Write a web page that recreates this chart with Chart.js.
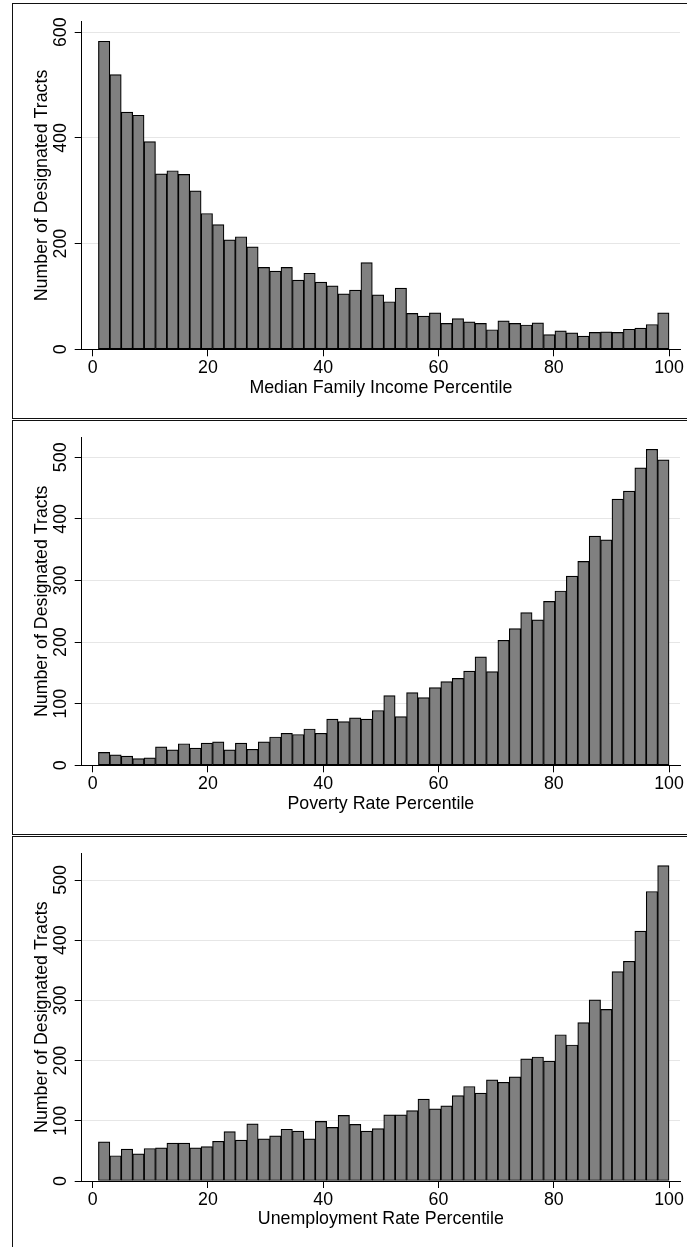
<!DOCTYPE html>
<html lang="en">
<head>
    <meta charset="UTF-8">
    <title>Designated Tracts by Percentile</title>
    <script src="https://cdn.jsdelivr.net/npm/chart.js@4.4.0/dist/chart.umd.min.js"></script>
    <style>
        html, body { margin: 0; padding: 0; background: #fff; overflow: hidden; }
        .panel { position: absolute; left: 12px; width: 700px; box-sizing: border-box; border: 1.5px solid #111; }
        canvas { position: absolute; left: 0; }
    </style>
</head>
<body>
    <div class="panel" style="top:3px;height:416px"></div>
    <div class="panel" style="top:420px;height:415px"></div>
    <div class="panel" style="top:835.5px;height:420px"></div>

    <canvas id="incomeChart" width="687" height="414" style="top:4px"></canvas>
    <canvas id="povertyChart" width="687" height="414" style="top:420px"></canvas>
    <canvas id="unemploymentChart" width="687" height="412" style="top:835px"></canvas>

    <script>
        // bin centres (percentile), 50 bins of ~1.98 from 1 to 100
        const binCenters = [
            1.99, 3.97, 5.95, 7.93, 9.91, 11.89, 13.87, 15.85, 17.83, 19.81,
            21.79, 23.77, 25.75, 27.73, 29.71, 31.69, 33.67, 35.65, 37.63, 39.61,
            41.59, 43.57, 45.55, 47.53, 49.51, 51.49, 53.47, 55.45, 57.43, 59.41,
            61.39, 63.37, 65.35, 67.33, 69.31, 71.29, 73.27, 75.25, 77.23, 79.21,
            81.19, 83.17, 85.15, 87.13, 89.11, 91.09, 93.07, 95.05, 97.03, 99.01
        ];

        const incomeCounts = [
            583, 520, 449, 443, 393, 332, 338, 331, 300, 257,
            236, 207, 213, 194, 155, 148, 155, 131, 144, 127,
            120, 105, 112, 164, 103, 90, 116, 68, 63, 69,
            49, 58, 52, 49, 37, 54, 49, 46, 50, 28,
            35, 31, 25, 32, 33, 32, 38, 40, 47, 69
        ];
        const povertyCounts = [
            21, 17, 15, 11, 12, 30, 25, 35, 28, 36,
            38, 25, 36, 26, 38, 46, 52, 50, 59, 52,
            75, 71, 77, 75, 89, 113, 79, 118, 110, 126,
            136, 141, 153, 176, 152, 203, 222, 248, 236, 266,
            283, 307, 331, 372, 366, 432, 445, 483, 513, 496
        ];
        const unemploymentCounts = [
            65, 42, 53, 45, 54, 55, 63, 63, 55, 57,
            66, 82, 68, 95, 70, 75, 86, 83, 70, 99,
            89, 109, 94, 83, 87, 110, 110, 117, 136, 120,
            125, 142, 157, 146, 168, 164, 173, 203, 206, 199,
            243, 226, 263, 301, 285, 348, 365, 415, 481, 524
        ];

        const xTicks = [0, 20, 40, 60, 80, 100];
        const incomeYTicks = [0, 200, 400, 600];
        const povertyYTicks = [0, 100, 200, 300, 400, 500];
        const unemploymentYTicks = [0, 100, 200, 300, 400, 500];

        Chart.defaults.font.family = "'Liberation Sans', Arial, Helvetica, sans-serif";
        Chart.defaults.font.size = 17.8;
        Chart.defaults.color = '#000';

        const Y_TITLE = 'Number of Designated Tracts';
        const PAD_LEFT = 31;
        const AXIS_LEFT = 81.7;
        const X_AXIS_H = 49;

        function drawHistogram(id, counts, xTitle, yMax, yTicks, padTop, axisY, canvasH) {
            new Chart(document.getElementById(id), {
                type: 'bar',
                data: {
                    datasets: [{
                        data: binCenters.map((x, i) => ({ x: x, y: counts[i] })),
                        backgroundColor: '#808080',
                        borderColor: '#000',
                        borderWidth: 1.2,
                        borderSkipped: false,
                        barPercentage: 1,
                        categoryPercentage: 1
                    }]
                },
                options: {
                    responsive: false,
                    animation: false,
                    devicePixelRatio: 1,
                    layout: {
                        padding: { left: PAD_LEFT, right: 7, top: padTop, bottom: canvasH - axisY - X_AXIS_H }
                    },
                    plugins: { legend: { display: false }, tooltip: { enabled: false } },
                    scales: {
                        x: {
                            type: 'linear',
                            min: -1.9,
                            max: 101.9,
                            offset: false,
                            afterBuildTicks: s => { s.ticks = xTicks.map(v => ({ value: v })); },
                            afterFit: s => { s.height = X_AXIS_H; },
                            grid: { drawOnChartArea: false, offset: false, tickLength: 7, tickColor: '#000' },
                            border: { color: '#000', width: 1 },
                            ticks: { padding: 1, minRotation: 0, maxRotation: 0 },
                            title: { display: true, text: xTitle, padding: 0 }
                        },
                        y: {
                            min: 0,
                            max: yMax,
                            afterBuildTicks: s => { s.ticks = yTicks.map(v => ({ value: v })); },
                            afterFit: s => { s.width = AXIS_LEFT - PAD_LEFT; },
                            grid: {
                                color: c => (c.tick && c.tick.value === 0) ? 'rgba(0,0,0,0)' : '#e6e6e6',
                                tickColor: '#000',
                                tickLength: 7
                            },
                            border: { color: '#000', width: 1 },
                            ticks: { minRotation: 90, maxRotation: 90, crossAlign: 'center', padding: -1 },
                            title: { display: true, text: Y_TITLE, padding: 0 }
                        }
                    }
                }
            });
        }

        drawHistogram('incomeChart', incomeCounts, 'Median Family Income Percentile', 620, incomeYTicks, 17.7, 345.3, 414);
        drawHistogram('povertyChart', povertyCounts, 'Poverty Rate Percentile', 532.5, povertyYTicks, 17.3, 345.3, 414);
        drawHistogram('unemploymentChart', unemploymentCounts, 'Unemployment Rate Percentile', 544.4, unemploymentYTicks, 18.3, 346, 412);
    </script>
</body>
</html>
